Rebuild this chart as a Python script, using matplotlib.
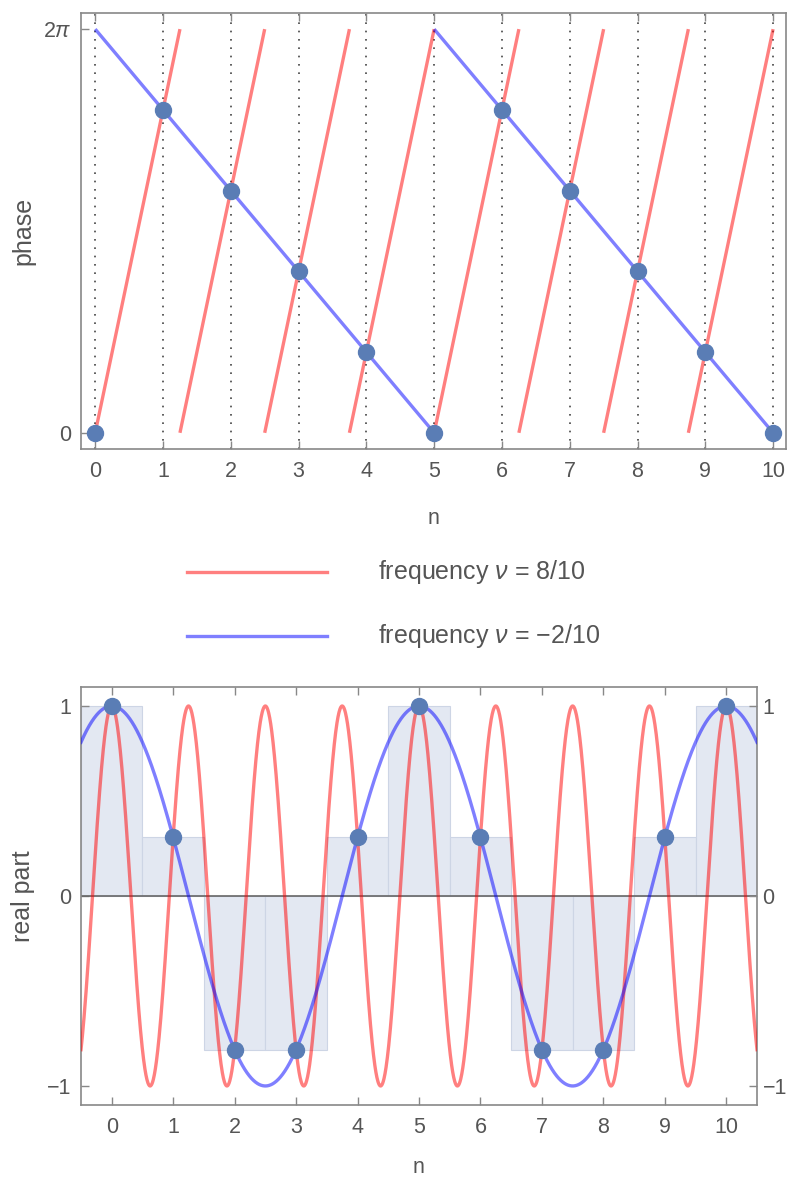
import numpy as np
import matplotlib.pyplot as plt

plt.rcParams['font.family'] = ['Liberation Sans', 'DejaVu Sans']
plt.rcParams['mathtext.fontset'] = 'custom'
plt.rcParams['mathtext.rm'] = 'Liberation Sans'
plt.rcParams['mathtext.it'] = 'Liberation Sans:italic'

# data
n_values = list(range(11))
freq_red = 8 / 10
freq_blue = -2 / 10
# sawtooth breakpoints (where phase wraps from 2pi to 0)
red_breaks = [0, 1.25, 2.5, 3.75, 5, 6.25, 7.5, 8.75, 10]
blue_breaks = [0, 5, 10]
# sampled phase of the blue signal, in units of 2pi
phase_points = [0, 0.8, 0.6, 0.4, 0.2, 0, 0.8, 0.6, 0.4, 0.2, 0]
# sampled real part
real_points = [1, 0.309, -0.809, -0.809, 0.309, 1, 0.309, -0.809, -0.809, 0.309, 1]

RED = (1.0, 0.0, 0.0, 0.5)
BLUE = (0.0, 0.0, 1.0, 0.5)
DOT = '#5a7db5'
TXT = '#555555'
SPINE = '#888888'
TWO_PI = 2 * np.pi
TICK_FS = 15.5
LABEL_FS = 18

fig = plt.figure(figsize=(7.87, 11.79), dpi=100)

# ---- top: phase ----
ax1 = fig.add_axes([0.1029, 0.6192, 0.8958, 0.3698])
for x in n_values:
    ax1.axvline(x, color='#444444', lw=1.2, ls=(0, (1, 4)), zorder=1)
for a, b in zip(red_breaks[:-1], red_breaks[1:]):
    ax1.plot([a, b], [0, TWO_PI], color=RED, lw=2.4, solid_capstyle='butt', zorder=2)
for a, b in zip(blue_breaks[:-1], blue_breaks[1:]):
    ax1.plot([a, b], [TWO_PI, 0], color=BLUE, lw=2.4, solid_capstyle='butt', zorder=3)
ax1.plot(n_values, np.array(phase_points) * TWO_PI, 'o', color=DOT, ms=11.5, zorder=4)
ax1.set_xlim(-0.21, 10.19)
ax1.set_ylim(-0.04 * TWO_PI, 1.04 * TWO_PI)
ax1.set_xticks(n_values)
ax1.set_yticks([0, TWO_PI])
ax1.set_yticklabels(['0', r'$2\pi$'])
ax1.tick_params(direction='in', length=6, width=1, color=SPINE, labelcolor=TXT,
                labelsize=TICK_FS, top=True)
ax1.tick_params(axis='x', pad=9)
ax1.tick_params(axis='y', pad=7)
ax1.set_xlabel('n', color=TXT, fontsize=TICK_FS)
ax1.set_ylabel('phase', color=TXT, fontsize=LABEL_FS)
ax1.xaxis.set_label_coords(0.5, -0.135)
ax1.yaxis.set_label_coords(-0.065, 0.5)
for s in ax1.spines.values():
    s.set_color(SPINE)
    s.set_linewidth(1.2)

# ---- legend ----
fig.add_artist(plt.Line2D([187 / 787, 327 / 787], [1 - 572 / 1179] * 2, color=RED, lw=2.4))
fig.add_artist(plt.Line2D([187 / 787, 327 / 787], [1 - 636 / 1179] * 2, color=BLUE, lw=2.4))
fig.text(378 / 787, 1 - 572 / 1179, r'frequency $\nu$ = 8/10', color=TXT, fontsize=LABEL_FS, va='center')
fig.text(378 / 787, 1 - 636 / 1179, r'frequency $\nu$ = −2/10', color=TXT, fontsize=LABEL_FS, va='center')

# ---- bottom: real part ----
ax2 = fig.add_axes([0.1029, 0.0628, 0.859, 0.3545])
ax2.bar(n_values, real_points, width=1, color='#e3e8f2', edgecolor='#cdd5e5', lw=0.8, zorder=1)
ax2.axhline(0, color='#666666', lw=1.2, zorder=2)
x = np.linspace(-0.5, 10.5, 2000)
ax2.plot(x, np.cos(TWO_PI * freq_red * x), color=RED, lw=2.4, zorder=3)
ax2.plot(x, np.cos(TWO_PI * freq_blue * x), color=BLUE, lw=2.4, zorder=4)
ax2.plot(n_values, real_points, 'o', color=DOT, ms=11.5, zorder=5)
ax2.set_xlim(-0.5, 10.5)
ax2.set_ylim(-1.1, 1.1)
ax2.set_xticks(n_values)
ax2.set_yticks([-1, 0, 1])
ax2.set_yticklabels(['−1', '0', '1'])
ax2.tick_params(direction='in', length=6, width=1, color=SPINE, labelcolor=TXT,
                labelsize=TICK_FS, top=True, right=True)
ax2.tick_params(axis='x', pad=9)
ax2.tick_params(axis='y', pad=7)
ax2.set_xlabel('n', color=TXT, fontsize=TICK_FS)
ax2.set_ylabel('real part', color=TXT, fontsize=LABEL_FS)
ax2.xaxis.set_label_coords(0.5, -0.125)
ax2.yaxis.set_label_coords(-0.068, 0.5)
for s in ax2.spines.values():
    s.set_color(SPINE)
    s.set_linewidth(1.2)

# right-hand tick labels
ax2r = ax2.twinx()
ax2r.set_ylim(ax2.get_ylim())
ax2r.set_yticks([-1, 0, 1])
ax2r.set_yticklabels(['−1', '0', '1'])
ax2r.tick_params(direction='in', length=6, width=1, color=SPINE, labelcolor=TXT,
                 labelsize=TICK_FS, pad=4)
for s in ax2r.spines.values():
    s.set_visible(False)

fig.savefig('out.png', dpi=100)
